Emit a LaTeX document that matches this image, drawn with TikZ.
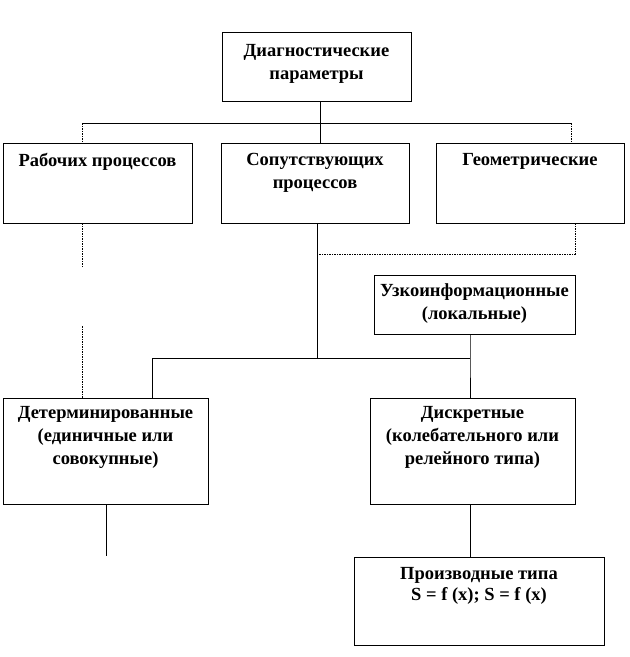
\documentclass[tikz,border=0pt]{standalone}
\usepackage{fontspec}
\setmainfont{Liberation Serif}
\begin{document}
\begin{tikzpicture}[x=1pt,y=-1pt,
  box/.style={draw=black,line width=0.6pt,inner sep=0pt},
  txt/.style={font=\bfseries\fontsize{18.5}{23}\selectfont,align=center,inner sep=0pt,anchor=north},
  solidln/.style={draw=black,line width=0.8pt},
  dashln/.style={draw=black,line width=0.8pt,dash pattern=on 1.5pt off 1pt}]
\useasboundingbox (0,0) rectangle (630,657);
% boxes
\node[box,minimum width=189pt,minimum height=69pt] (top) at (316.5,66.5) {};
\node[box,minimum width=189pt,minimum height=80pt] (rab) at (97.5,183) {};
\node[box,minimum width=188pt,minimum height=80pt] (sop) at (315,183) {};
\node[box,minimum width=188pt,minimum height=80pt] (geo) at (530,183) {};
\node[box,minimum width=201pt,minimum height=59pt] (uzk) at (474.5,304.5) {};
\node[box,minimum width=205pt,minimum height=106pt] (det) at (105.5,451) {};
\node[box,minimum width=205pt,minimum height=106pt] (dis) at (472.5,451) {};
\node[box,minimum width=250pt,minimum height=88pt] (pro) at (479,601) {};
% texts
\node[txt] (ttop) at ([yshift=-12pt]top.north) {Диагностические\\параметры};
\node[txt] (trab) at ([yshift=-10pt]rab.north) {Рабочих процессов};
\node[txt] (tsop) at ([yshift=-10pt]sop.north) {Сопутствующих\\процессов};
\node[txt] (tgeo) at ([yshift=-10pt]geo.north) {Геометрические};
\node[txt] (tuzk) at ([yshift=-9pt]uzk.north) {Узкоинформационные\\(локальные)};
\node[txt] (tdet) at ([yshift=-8pt]det.north) {Детерминированные\\(единичные или\\совокупные)};
\node[txt] (tdis) at ([yshift=-8pt]dis.north) {Дискретные\\(колебательного или\\релейного типа)};
\node[txt,font=\bfseries\fontsize{18.5}{21}\selectfont] (tpro) at ([yshift=-10pt]pro.north) {Производные типа\\S = f (x); S = f (x)};
% junction coordinates
\coordinate (h1l) at (82,123);
\coordinate (h1m) at (320,123);
\coordinate (h1r) at (571,123);
\coordinate (h2r) at (575,254);
\coordinate (h2m) at (317,254);
\coordinate (h3l) at (152,358);
\coordinate (h3m) at (317,358);
\coordinate (h3r) at (470,358);
\coordinate (rl1) at (82,267);
\coordinate (rl2) at (82,326);
\coordinate (dend) at (106,556);
% connectors
\draw[solidln] (top.south -| h1m) -- (h1m);
\draw[solidln] (h1l) -- (h1r);
\draw[dashln] (h1l) -- (h1l |- rab.north);
\draw[solidln] (h1m) -- (h1m |- sop.north);
\draw[dashln] (h1r) -- (h1r |- geo.north);
\draw[dashln] (rab.south -| h1l) -- (rl1);
\draw[dashln] (rl2) -- (rl2 |- det.north);
\draw[solidln] (sop.south -| h3m) -- (h3m);
\draw[dashln] (geo.south -| h2r) -- (h2r) -- (h2m);
\draw[solidln] (h3l) -- (h3r);
\draw[solidln] (h3l) -- (h3l |- det.north);
\draw[solidln] (uzk.south -| h3r) -- (h3r) -- (h3r |- dis.north);
\draw[solidln] (det.south -| dend) -- (dend);
\draw[solidln] (dis.south -| h3r) -- (h3r |- pro.north);
\end{tikzpicture}
\end{document}
